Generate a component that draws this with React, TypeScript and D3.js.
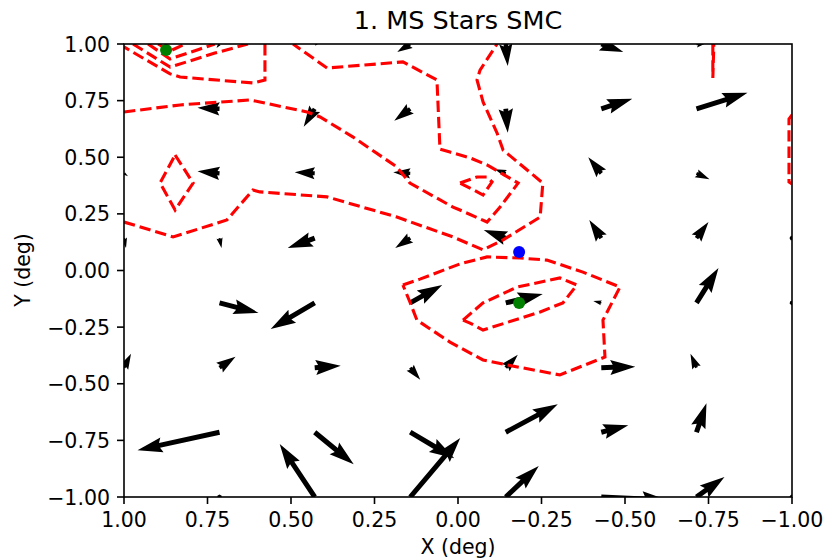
import React from "react";
import * as d3 from "d3";

// grid of the velocity field (deg)
const xGrid = [1.0, 0.714, 0.429, 0.143, -0.143, -0.429, -0.714, -1.0];
const yGrid = [1.0, 0.714, 0.429, 0.143, -0.143, -0.429, -0.714, -1.0];

// arrow components, rows follow yGrid, columns follow xGrid (screen direction: u right, v up)
const uRows = [
  [0, -0.3, 0.6, -1.3, 0.2, 2.2, 1.2, 0],
  [0, -2.2, -1.1, -1.6, 0.2, 3.1, 5.1, 0],
  [0.4, -2.2, -2.0, -1.7, -1.1, -1.3, 1.3, 0],
  [0.2, 0.2, -2.7, -1.5, -2.2, -1.2, 1.2, -0.2],
  [0, 3.9, -4.4, 3.2, 3.7, -0.8, 2.2, 0.1],
  [0.7, 1.6, 2.6, 1.0, 1.2, 3.4, -0.6, 0],
  [0, -8.2, 3.9, 4.4, 5.2, 2.7, 1.0, 0],
  [0, 0.0, -3.5, 5.0, 3.3, 6.6, 2.8, 0.2],
];
const vRows = [
  [0, -0.4, 0.2, -0.8, -2.2, -0.8, 0.2, 0],
  [0, 0.1, -1.8, -1.2, -2.4, 1.0, 1.6, 0],
  [-0.3, 0.2, 0.1, 0.1, 0.4, 1.6, -0.6, 0],
  [-1.0, -1.0, -1.0, -1.0, 0.8, 1.8, 1.6, 0.4],
  [0, -1.0, -2.6, 1.8, 0.9, 0.2, 3.5, 0.4],
  [1.4, 1.1, 0.2, -1.2, 1.3, 0.1, 1.4, 0],
  [0, -1.8, -3.2, -2.6, 2.8, 0.7, 2.9, 0],
  [0, 0.4, 5.3, 5.9, 3.1, -0.3, 2.0, 0.2],
];

// density contour paths (deg)
const contourTop1 = [[0.578, 1.0], [0.578, 0.841], [0.614, 0.828], [0.832, 0.854], [0.862, 0.868], [1.0, 0.987]];
const contourTop2 = [[0.973, 1.0], [0.862, 0.898], [0.728, 0.96], [0.629, 1.0]];
const contourTop3 = [[0.928, 1.0], [0.862, 0.934], [0.772, 0.978], [0.728, 1.0]];
const contourTop4 = [[0.898, 1.0], [0.862, 0.969], [0.817, 1.0]];
const contourBand = [
  [1.0, 0.7], [0.832, 0.731], [0.623, 0.753], [0.593, 0.744], [0.452, 0.7], [0.413, 0.678],
  [0.314, 0.589], [0.183, 0.457], [0.144, 0.386], [0.015, 0.28], [-0.006, 0.267], [-0.087, 0.214],
  [-0.126, 0.28], [-0.18, 0.386], [-0.087, 0.466], [-0.036, 0.497], [0.024, 0.523], [0.054, 0.536],
  [0.063, 0.841], [0.165, 0.921], [0.392, 0.894], [0.494, 1.0],
];
const contourLoop = [[-0.006, 0.386], [-0.057, 0.413], [-0.087, 0.413], [-0.102, 0.391], [-0.075, 0.333], [-0.036, 0.364], [-0.006, 0.386]];
const contourDiamond = [[0.847, 0.51], [0.793, 0.386], [0.847, 0.267], [0.892, 0.386], [0.847, 0.51]];
const contourLower = [
  [1.0, 0.214], [0.853, 0.148], [0.692, 0.223], [0.614, 0.355], [0.593, 0.347], [0.392, 0.325],
  [0.183, 0.236], [0.015, 0.148], [-0.075, 0.091], [-0.135, 0.135], [-0.246, 0.236], [-0.254, 0.386],
  [-0.135, 0.532], [-0.117, 0.607], [-0.075, 0.744], [-0.057, 0.841], [-0.066, 0.885], [-0.117, 1.0],
];
const contourCoreOuter = [
  [0.165, -0.064], [0.114, -0.038], [-0.006, 0.029], [-0.087, 0.06], [-0.186, 0.055], [-0.266, 0.046],
  [-0.374, -0.007], [-0.485, -0.073], [-0.434, -0.219], [-0.44, -0.382], [-0.305, -0.461], [-0.147, -0.417],
  [-0.075, -0.395], [0.024, -0.316], [0.123, -0.219], [0.144, -0.139], [0.165, -0.064],
];
const contourCoreInner = [
  [-0.015, -0.219], [-0.075, -0.143], [-0.177, -0.073], [-0.305, -0.033], [-0.356, -0.064],
  [-0.314, -0.143], [-0.246, -0.183], [-0.075, -0.263], [-0.036, -0.232], [-0.015, -0.219],
];
const contourRight1 = [[-0.763, 1.0], [-0.763, 0.85], [-0.766, 1.0]];
const contourRight2 = [[-1.0, 0.687], [-0.991, 0.669], [-0.991, 0.391], [-1.0, 0.382]];
const contours = [
  contourTop1, contourTop2, contourTop3, contourTop4, contourBand, contourLoop, contourDiamond,
  contourLower, contourCoreOuter, contourCoreInner, contourRight1, contourRight2,
];

// marked centres
const centres = [
  { x: 0.874, y: 0.973, color: "green" },
  { x: -0.183, y: 0.082, color: "blue" },
  { x: -0.183, y: -0.143, color: "green" },
];

const tickValues = [1.0, 0.75, 0.5, 0.25, 0.0, -0.25, -0.5, -0.75, -1.0];

const left = 124, right = 792, top = 44, bottom = 497;
const shaft = 5; // quiver shaft width in px
const arrowScale = 10; // px per unit of u, v

const fmt = (d: number) => d.toFixed(2).replace("-", "\u2212");

// matplotlib quiver arrow outline (units of shaft width)
function arrowPoints(tx: number, ty: number, u: number, v: number): string {
  const len = (Math.hypot(u, v) * arrowScale) / shaft;
  const a = Math.atan2(-v, u);
  let pts: [number, number][] = [];
  if (len < 1) {
    for (let k = 0; k < 6; k++) {
      const th = (k * Math.PI) / 3;
      pts.push([Math.cos(th) * 0.5, Math.sin(th) * 0.5]);
    }
  } else {
    let X: number[], Y: number[];
    if (len < 5) {
      const s = len / 5;
      X = [0, 0.5, 0, 5].map((d) => d * s);
      Y = [0.5, 0.5, 1.5, 0].map((d) => d * s);
    } else {
      X = [0, len - 4.5, len - 5, len];
      Y = [0.5, 0.5, 1.5, 0];
    }
    const ii = [0, 1, 2, 3, 2, 1, 0];
    const sg = [1, 1, 1, 1, -1, -1, -1];
    pts = ii.map((i, k) => [X[i], Y[i] * sg[k]]);
  }
  const c = Math.cos(a), s = Math.sin(a);
  return pts
    .map(([px, py]) => `${tx + shaft * (px * c - py * s)},${ty + shaft * (px * s + py * c)}`)
    .join(" ");
}

export default function App() {
  const x = d3.scaleLinear().domain([1, -1]).range([left, right]);
  const y = d3.scaleLinear().domain([-1, 1]).range([bottom, top]);
  const line = d3
    .line<number[]>()
    .x((d) => x(d[0]))
    .y((d) => y(d[1]));

  const arrows: { key: string; pts: string }[] = [];
  yGrid.forEach((gy, j) => {
    xGrid.forEach((gx, i) => {
      const u = uRows[j][i], v = vRows[j][i];
      if (u === 0 && v === 0) return;
      arrows.push({ key: `${i}-${j}`, pts: arrowPoints(x(gx), y(gy), u, v) });
    });
  });

  const font = "DejaVu Sans, sans-serif";

  return (
    <svg width={830} height={560} style={{ position: "absolute", left: 0, top: 0, background: "white" }}>
      <defs>
        <clipPath id="plot">
          <rect x={left} y={top} width={right - left} height={bottom - top} />
        </clipPath>
      </defs>
      <rect x={0} y={0} width={830} height={560} fill="white" />
      <g clipPath="url(#plot)">
        {arrows.map((a) => (
          <polygon key={a.key} points={a.pts} fill="black" />
        ))}
        {contours.map((c, i) => (
          <path key={i} d={line(c) || ""} fill="none" stroke="red" strokeWidth={3.1} strokeDasharray="11.4,4.9" />
        ))}
      </g>
      {centres.map((c, i) => (
        <circle key={i} cx={x(c.x)} cy={y(c.y)} r={6} fill={c.color} />
      ))}
      <rect x={left} y={top} width={right - left} height={bottom - top} fill="none" stroke="black" strokeWidth={1.6} />
      {tickValues.map((t) => (
        <g key={"x" + t}>
          <line x1={x(t)} x2={x(t)} y1={bottom} y2={bottom + 7} stroke="black" strokeWidth={1.6} />
          <text x={x(t)} y={527} textAnchor="middle" fontFamily={font} fontSize={20.5}>
            {fmt(t)}
          </text>
        </g>
      ))}
      {tickValues.map((t) => (
        <g key={"y" + t}>
          <line x1={left - 7} x2={left} y1={y(t)} y2={y(t)} stroke="black" strokeWidth={1.6} />
          <text x={110} y={y(t) + 7.5} textAnchor="end" fontFamily={font} fontSize={20.5}>
            {fmt(t)}
          </text>
        </g>
      ))}
      <text x={(left + right) / 2} y={29} textAnchor="middle" fontFamily={font} fontSize={25.5}>
        1. MS Stars SMC
      </text>
      <text x={(left + right) / 2} y={554} textAnchor="middle" fontFamily={font} fontSize={20.5}>
        X (deg)
      </text>
      <text transform={`translate(30,270) rotate(-90)`} textAnchor="middle" fontFamily={font} fontSize={20.5}>
        Y (deg)
      </text>
    </svg>
  );
}
